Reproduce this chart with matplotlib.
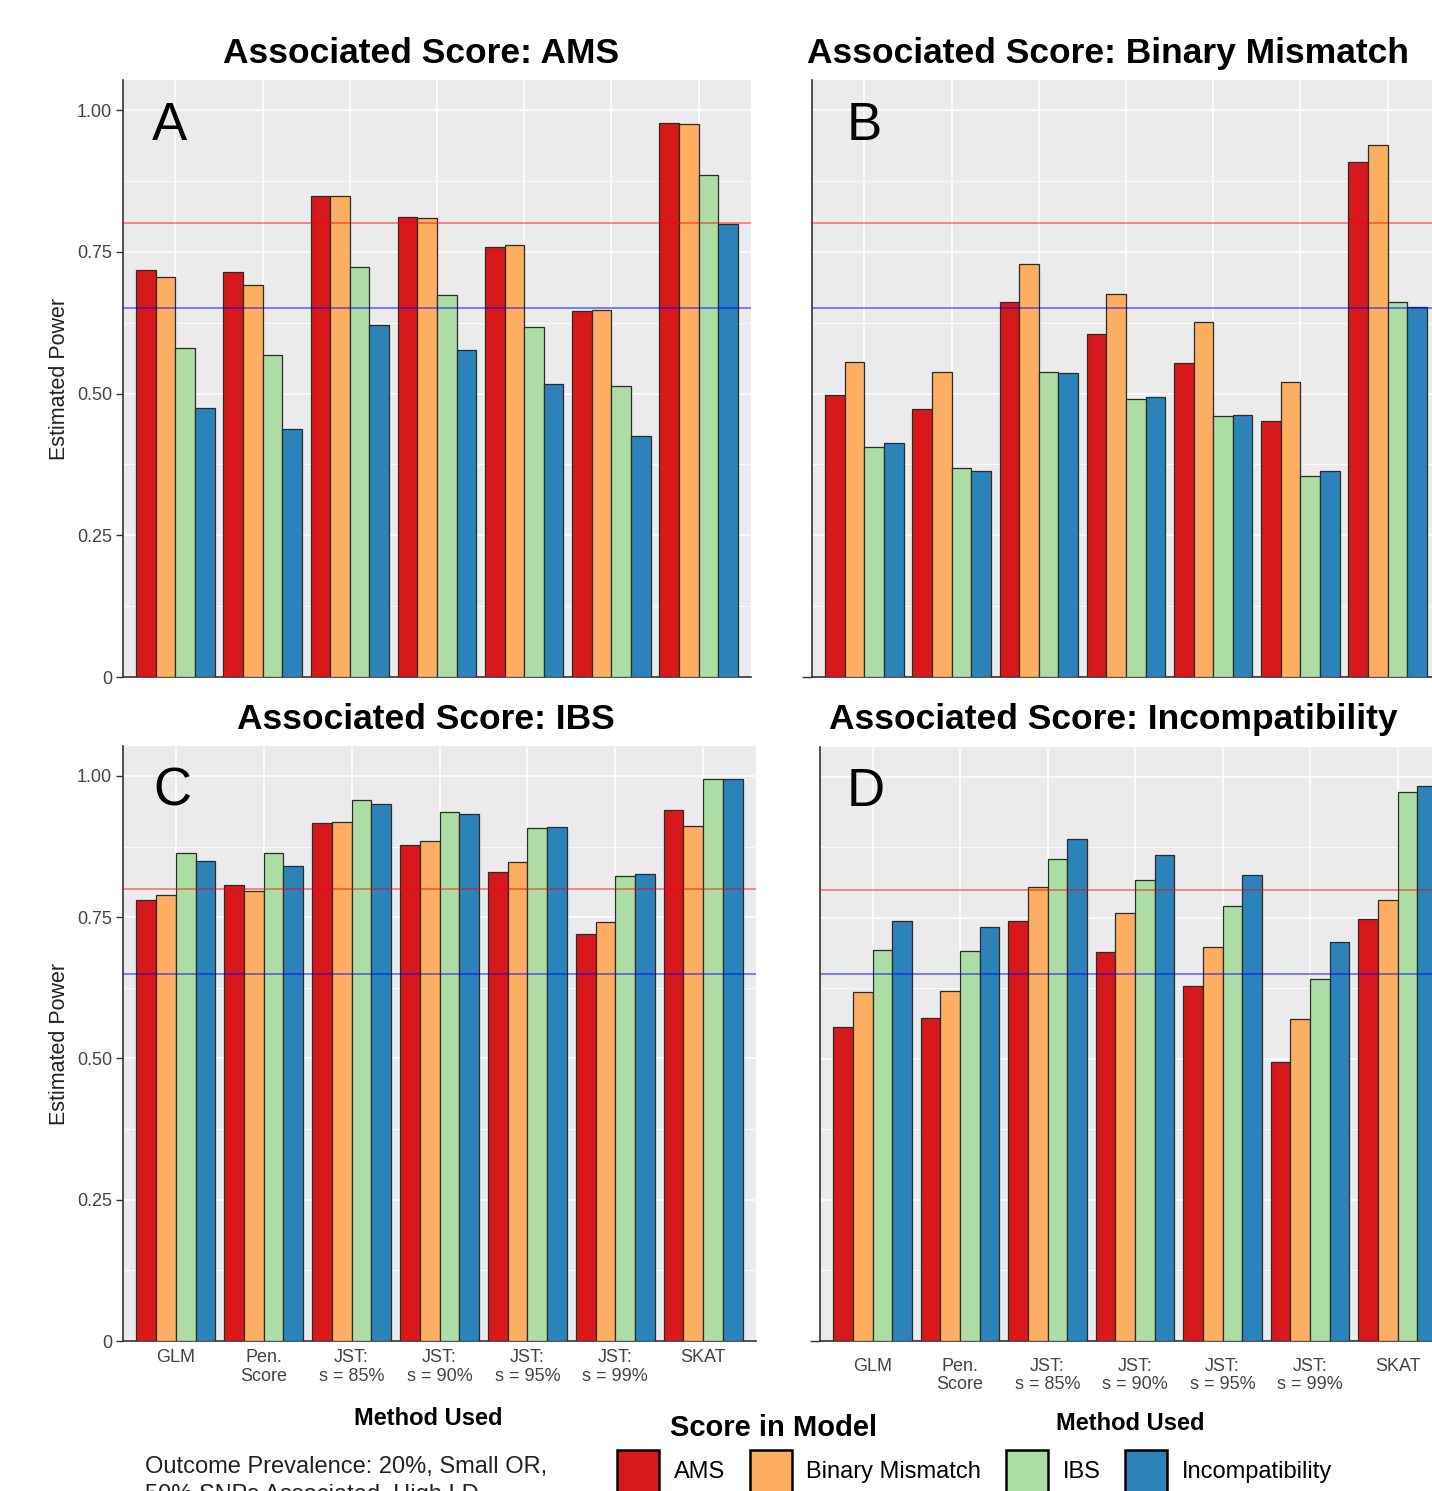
import numpy as np
import matplotlib

matplotlib.use("Agg")
import matplotlib.pyplot as plt
from matplotlib.patches import Patch


# Figure size in pixels (saved at dpi=100).
W, H = 1432, 1491

methods = [
    "GLM",
    "Pen.\nScore",
    "JST:\ns = 85%",
    "JST:\ns = 90%",
    "JST:\ns = 95%",
    "JST:\ns = 99%",
    "SKAT",
]
scores = ["AMS", "Binary Mismatch", "IBS", "Incompatibility"]
score_colors = ["#D7191C", "#FDAE61", "#ABDDA4", "#2B83BA"]

# Estimated power, one row per score in the model, one column per method.
power_assoc_ams = [
    [0.718, 0.715, 0.849, 0.812, 0.758, 0.646, 0.978],
    [0.705, 0.691, 0.848, 0.810, 0.762, 0.648, 0.975],
    [0.581, 0.568, 0.723, 0.674, 0.618, 0.514, 0.886],
    [0.474, 0.438, 0.621, 0.576, 0.517, 0.425, 0.799],
]
power_assoc_binary = [
    [0.497, 0.472, 0.661, 0.605, 0.554, 0.452, 0.908],
    [0.556, 0.538, 0.728, 0.675, 0.627, 0.521, 0.939],
    [0.406, 0.368, 0.538, 0.490, 0.460, 0.355, 0.662],
    [0.412, 0.363, 0.536, 0.494, 0.463, 0.363, 0.652],
]
power_assoc_ibs = [
    [0.781, 0.807, 0.917, 0.877, 0.830, 0.721, 0.939],
    [0.789, 0.796, 0.919, 0.884, 0.847, 0.742, 0.912],
    [0.863, 0.863, 0.957, 0.936, 0.908, 0.823, 0.995],
    [0.849, 0.840, 0.950, 0.932, 0.910, 0.826, 0.995],
]
power_assoc_incomp = [
    [0.557, 0.572, 0.745, 0.690, 0.629, 0.494, 0.748],
    [0.618, 0.620, 0.804, 0.758, 0.698, 0.570, 0.782],
    [0.694, 0.692, 0.854, 0.817, 0.771, 0.642, 0.973],
    [0.745, 0.734, 0.890, 0.861, 0.826, 0.707, 0.983],
]

power_high = 0.80
power_low = 0.65
y_ticks = [0, 0.25, 0.50, 0.75, 1.00]
y_tick_labels = ["0", "0.25", "0.50", "0.75", "1.00"]

plt.rcParams["font.family"] = ["Liberation Sans", "DejaVu Sans"]


def add_axes_px(fig, left, top, right, bottom):
    return fig.add_axes(
        [left / W, 1 - bottom / H, (right - left) / W, (bottom - top) / H]
    )


def fig_text(fig, x, y, s, **kw):
    fig.text(x / W, 1 - y / H, s, **kw)


def draw_panel(ax, data, show_ylabels, show_xlabels, xlabel_pad):
    ax.set_facecolor("#EBEBEB")
    x = np.arange(1, len(methods) + 1)
    width = 0.9 / len(scores)
    for i, (values, color) in enumerate(zip(data, score_colors)):
        offset = (i - (len(scores) - 1) / 2) * width
        ax.bar(
            x + offset,
            values,
            width=width,
            color=color,
            edgecolor="#2B2B2B",
            linewidth=0.9,
            zorder=3,
        )

    ax.axhline(power_high, color="red", alpha=0.55, linewidth=1.1, zorder=4)
    ax.axhline(power_low, color="blue", alpha=0.6, linewidth=1.1, zorder=4)

    ax.set_xlim(0.4, len(methods) + 0.6)
    ax.set_ylim(0, 1.053)

    ax.set_yticks([0.125, 0.375, 0.625, 0.875], minor=True)
    ax.grid(which="major", color="white", linewidth=1.1, zorder=0)
    ax.grid(which="minor", axis="y", color="white", linewidth=0.55, zorder=0)
    ax.set_axisbelow(True)

    for side in ["top", "right"]:
        ax.spines[side].set_visible(False)
    for side in ["left", "bottom"]:
        ax.spines[side].set_color("#333333")
        ax.spines[side].set_linewidth(1.2)

    ax.set_xticks(x)
    if show_xlabels:
        ax.set_xticklabels(methods, fontsize=13, color="#444444", linespacing=1.1)
    else:
        ax.set_xticklabels([])
    ax.tick_params(axis="x", length=0, pad=xlabel_pad)
    ax.tick_params(axis="y", which="minor", length=0)

    if show_ylabels:
        ax.set_yticks(y_ticks)
        ax.set_yticklabels(y_tick_labels, fontsize=13, color="#444444")
        ax.tick_params(axis="y", length=5, width=1.0, color="#333333", pad=3)
        ax.set_ylabel("Estimated Power", fontsize=15.5, color="#222222", labelpad=5)
    else:
        ax.set_yticks([0])
        ax.set_yticklabels([])
        ax.tick_params(axis="y", length=7, width=1.0, color="#333333")
        ax.grid(which="major", axis="y", visible=False)
        for yv in y_ticks[1:]:
            ax.axhline(yv, color="white", linewidth=1.1, zorder=0)


def main():
    fig = plt.figure(figsize=(W / 100, H / 100), dpi=100)

    ax_a = add_axes_px(fig, 123, 80, 751, 677)
    ax_b = add_axes_px(fig, 812, 80, 1440, 677)
    ax_c = add_axes_px(fig, 123, 746, 756, 1341)
    ax_d = add_axes_px(fig, 820, 747, 1450, 1341)

    draw_panel(ax_a, power_assoc_ams, True, False, 6)
    draw_panel(ax_b, power_assoc_binary, False, False, 6)
    draw_panel(ax_c, power_assoc_ibs, True, True, 6)
    draw_panel(ax_d, power_assoc_incomp, False, True, 12)

    # Panel titles.
    title_kw = dict(fontsize=25.5, fontweight="bold", ha="center", va="baseline")
    fig_text(fig, 421, 63, "Associated Score: AMS", **title_kw)
    fig_text(fig, 1108, 63, "Associated Score: Binary Mismatch", **title_kw)
    fig_text(fig, 426, 729, "Associated Score: IBS", **title_kw)
    fig_text(fig, 1113, 729, "Associated Score: Incompatibility", **title_kw)

    # Panel letters.
    letter_kw = dict(fontsize=38, ha="left", va="baseline")
    fig_text(fig, 152, 140, "A", **letter_kw)
    fig_text(fig, 847, 140, "B", **letter_kw)
    fig_text(fig, 153, 806, "C", **letter_kw)
    fig_text(fig, 847, 806, "D", **letter_kw)

    # x-axis titles.
    fig_text(fig, 428, 1425, "Method Used", fontsize=17, fontweight="bold",
             ha="center", va="baseline")
    fig_text(fig, 1130, 1430, "Method Used", fontsize=17, fontweight="bold",
             ha="center", va="baseline")

    # Simulation settings caption.
    fig_text(fig, 145, 1473, "Outcome Prevalence: 20%, Small OR,", fontsize=17,
             ha="left", va="baseline", color="#222222")
    fig_text(fig, 145, 1501, "50% SNPs Associated, High LD", fontsize=17,
             ha="left", va="baseline", color="#222222")

    # Shared legend.
    fig_text(fig, 670, 1436, "Score in Model", fontsize=21, fontweight="bold",
             ha="left", va="baseline")
    handles = [
        Patch(facecolor=c, edgecolor="black", linewidth=1.8) for c in score_colors
    ]
    fig.legend(
        handles,
        scores,
        loc="upper left",
        bbox_to_anchor=(617 / W, 1 - 1450 / H),
        ncol=4,
        frameon=False,
        fontsize=17,
        handlelength=1.78,
        handleheight=2.36,
        handletextpad=0.62,
        columnspacing=1.05,
        borderpad=0,
        borderaxespad=0,
    )

    fig.savefig("out.png", dpi=100)


if __name__ == "__main__":
    main()
